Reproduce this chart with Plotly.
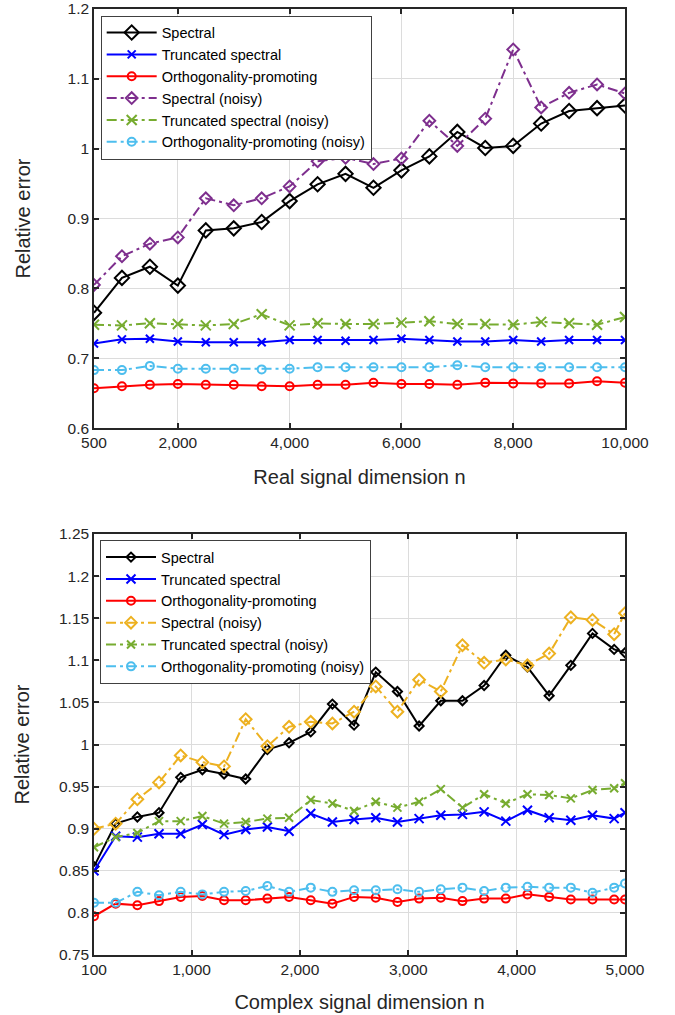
import plotly.graph_objects as go

# ---------------- data: real signal (top) ----------------
n_real = [500, 1000, 1500, 2000, 2500, 3000, 3500, 4000, 4500, 5000,
          5500, 6000, 6500, 7000, 7500, 8000, 8500, 9000, 9500, 10000]
r_spectral = [0.765, 0.815, 0.831, 0.804, 0.883, 0.886, 0.895, 0.925, 0.949, 0.964,
              0.944, 0.969, 0.989, 1.024, 1.001, 1.004, 1.036, 1.054, 1.058, 1.062]
r_trunc = [0.721, 0.727, 0.728, 0.724, 0.723, 0.723, 0.723, 0.726, 0.726, 0.725,
           0.726, 0.728, 0.726, 0.724, 0.724, 0.726, 0.724, 0.726, 0.726, 0.726]
r_ortho = [0.657, 0.660, 0.662, 0.663, 0.662, 0.662, 0.660, 0.660, 0.662, 0.662,
           0.665, 0.663, 0.663, 0.662, 0.665, 0.664, 0.664, 0.664, 0.667, 0.665]
r_spectral_noisy = [0.805, 0.846, 0.864, 0.873, 0.929, 0.919, 0.929, 0.946, 0.982, 0.987,
                    0.978, 0.986, 1.040, 1.004, 1.043, 1.142, 1.059, 1.080, 1.092, 1.079]
r_trunc_noisy = [0.748, 0.747, 0.750, 0.749, 0.747, 0.749, 0.763, 0.747, 0.750, 0.749,
                 0.749, 0.751, 0.753, 0.749, 0.749, 0.748, 0.752, 0.750, 0.748, 0.759]
r_ortho_noisy = [0.683, 0.683, 0.689, 0.685, 0.685, 0.685, 0.684, 0.685, 0.687, 0.687,
                 0.687, 0.687, 0.687, 0.690, 0.687, 0.687, 0.687, 0.687, 0.687, 0.687]

# ---------------- data: complex signal (bottom) ----------------
n_cplx = [100, 300, 500, 700, 900, 1100, 1300, 1500, 1700, 1900, 2100, 2300, 2500,
          2700, 2900, 3100, 3300, 3500, 3700, 3900, 4100, 4300, 4500, 4700, 4900, 5000]
c_spectral = [0.855, 0.906, 0.914, 0.919, 0.961, 0.970, 0.965, 0.959, 0.994, 1.002,
              1.015, 1.048, 1.023, 1.086, 1.063, 1.022, 1.052, 1.052, 1.070, 1.106,
              1.092, 1.058, 1.094, 1.132, 1.113, 1.109]
c_trunc = [0.850, 0.891, 0.890, 0.894, 0.894, 0.905, 0.893, 0.899, 0.902, 0.897,
           0.918, 0.908, 0.911, 0.913, 0.908, 0.912, 0.916, 0.917, 0.920, 0.909,
           0.922, 0.913, 0.910, 0.916, 0.912, 0.919]
c_ortho = [0.796, 0.811, 0.809, 0.814, 0.819, 0.820, 0.815, 0.815, 0.817, 0.819,
           0.815, 0.811, 0.819, 0.818, 0.813, 0.817, 0.818, 0.814, 0.817, 0.817,
           0.822, 0.819, 0.816, 0.816, 0.816, 0.816]
c_spectral_noisy = [0.900, 0.906, 0.935, 0.955, 0.987, 0.979, 0.974, 1.030, 0.998, 1.021,
                    1.027, 1.025, 1.039, 1.069, 1.039, 1.077, 1.063, 1.118, 1.097, 1.101,
                    1.094, 1.108, 1.151, 1.148, 1.131, 1.156]
c_trunc_noisy = [0.878, 0.890, 0.895, 0.909, 0.909, 0.915, 0.906, 0.908, 0.912, 0.913,
                 0.934, 0.930, 0.921, 0.932, 0.925, 0.932, 0.947, 0.925, 0.941, 0.930,
                 0.941, 0.940, 0.936, 0.946, 0.948, 0.954]
c_ortho_noisy = [0.812, 0.812, 0.825, 0.821, 0.825, 0.822, 0.825, 0.826, 0.832, 0.825,
                 0.830, 0.825, 0.827, 0.827, 0.828, 0.825, 0.828, 0.830, 0.826, 0.830,
                 0.831, 0.830, 0.830, 0.824, 0.830, 0.835]

names = ["Spectral", "Truncated spectral", "Orthogonality-promoting",
         "Spectral (noisy)", "Truncated spectral (noisy)", "Orthogonality-promoting (noisy)"]

top_xticks = [500, 2000, 4000, 6000, 8000, 10000]
top_xtext = ["500", "2,000", "4,000", "6,000", "8,000", "10,000"]
top_yticks = [0.6, 0.7, 0.8, 0.9, 1.0, 1.1, 1.2]
top_ytext = ["0.6", "0.7", "0.8", "0.9", "1", "1.1", "1.2"]
bot_xticks = [100, 1000, 2000, 3000, 4000, 5000]
bot_xtext = ["100", "1,000", "2,000", "3,000", "4,000", "5,000"]
bot_yticks = [0.75, 0.8, 0.85, 0.9, 0.95, 1.0, 1.05, 1.1, 1.15, 1.2, 1.25]
bot_ytext = ["0.75", "0.8", "0.85", "0.9", "0.95", "1", "1.05", "1.1", "1.15", "1.2", "1.25"]

FONT = "Liberation Sans, Arial, Helvetica, sans-serif"
DASHDOT = "10px,4px,3px,4px"

fig = go.Figure()

top_styles = [
    dict(color="black", dash="solid", symbol="diamond-open", size=11),
    dict(color="#0000FF", dash="solid", symbol="x-thin-open", size=8),
    dict(color="#FF0000", dash="solid", symbol="circle-open", size=8),
    dict(color="#7E2F8E", dash=DASHDOT, symbol="diamond-open", size=9),
    dict(color="#77AC30", dash=DASHDOT, symbol="x-thin-open", size=10),
    dict(color="#4DBEEE", dash=DASHDOT, symbol="circle-open", size=8),
]
bot_styles = [
    dict(color="black", dash="solid", symbol="diamond-open", size=7),
    dict(color="#0000FF", dash="solid", symbol="x-thin-open", size=9),
    dict(color="#FF0000", dash="solid", symbol="circle-open", size=8),
    dict(color="#EDB120", dash=DASHDOT, symbol="diamond-open", size=9),
    dict(color="#77AC30", dash=DASHDOT, symbol="x-thin-open", size=8),
    dict(color="#4DBEEE", dash=DASHDOT, symbol="circle-open", size=8),
]

top_series = [r_spectral, r_trunc, r_ortho, r_spectral_noisy, r_trunc_noisy, r_ortho_noisy]
bot_series = [c_spectral, c_trunc, c_ortho, c_spectral_noisy, c_trunc_noisy, c_ortho_noisy]

for name, ys, st in zip(names, top_series, top_styles):
    fig.add_trace(go.Scatter(
        x=n_real, y=ys, name=name, mode="lines+markers",
        line=dict(color=st["color"], width=2, dash=st["dash"]),
        marker=dict(symbol=st["symbol"], size=st["size"], color=st["color"],
                    line=dict(color=st["color"], width=2)),
        xaxis="x", yaxis="y", legend="legend"))

for name, ys, st in zip(names, bot_series, bot_styles):
    fig.add_trace(go.Scatter(
        x=n_cplx, y=ys, name=name, mode="lines+markers",
        line=dict(color=st["color"], width=2, dash=st["dash"]),
        marker=dict(symbol=st["symbol"], size=st["size"], color=st["color"],
                    line=dict(color=st["color"], width=2)),
        xaxis="x2", yaxis="y2", legend="legend2"))

axis_common = dict(
    showline=True, linecolor="#262626", linewidth=1.5, mirror="ticks",
    ticks="inside", ticklen=5, tickwidth=1.5, tickcolor="#262626",
    showgrid=True, gridcolor="#dcdcdc", gridwidth=1.3, zeroline=False,
    automargin=False, ticklabeloverflow="allow",
    tickfont=dict(family=FONT, size=15.5, color="#262626"),
)
title_font = dict(family=FONT, size=20, color="#262626")

legend_common = dict(
    bgcolor="white", bordercolor="#404040", borderwidth=1,
    font=dict(family=FONT, size=14.5, color="black"),
    xanchor="left", yanchor="top", itemwidth=50, tracegroupgap=0,
)

fig.update_layout(
    template="none",
    width=675, height=1015,
    margin=dict(l=94, r=50, t=9, b=60, autoexpand=False),
    plot_bgcolor="white", paper_bgcolor="white",
    font=dict(family=FONT, color="#262626"),
    showlegend=True,
    xaxis=dict(domain=[0, 1], range=[500, 10000], anchor="y",
               tickvals=top_xticks, ticktext=top_xtext,
               title=dict(text="Real signal dimension n", font=title_font, standoff=20),
               **axis_common),
    yaxis=dict(domain=[0.557, 1.0], range=[0.6, 1.2], anchor="x",
               tickvals=top_yticks, ticktext=top_ytext,
               title=dict(text="Relative error", font=title_font, standoff=32),
               **axis_common),
    xaxis2=dict(domain=[0, 1], range=[100, 5000], anchor="y2",
                tickvals=bot_xticks, ticktext=bot_xtext,
                title=dict(text="Complex signal dimension n", font=title_font, standoff=18),
                **axis_common),
    yaxis2=dict(domain=[0.0, 0.445], range=[0.75, 1.25], anchor="x2",
                tickvals=bot_yticks, ticktext=bot_ytext,
                title=dict(text="Relative error", font=title_font, standoff=24),
                **axis_common),
    legend=dict(x=0.0126, y=0.993, **legend_common),
    legend2=dict(x=0.0113, y=0.4385, **legend_common),
)

fig.write_html("out.html", config={"displayModeBar": False},
               post_script="document.body.style.margin='0';")
